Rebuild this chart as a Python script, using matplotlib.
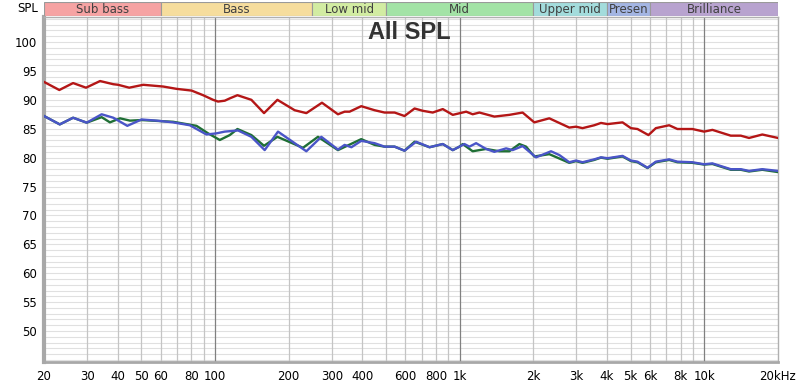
import matplotlib
matplotlib.use("Agg")
import matplotlib.pyplot as plt
from matplotlib.patches import Rectangle

# ---------------- data ----------------
freq_red = [20, 23.1, 26.3, 29.7, 33.9, 38.4, 40.2, 44.6, 50.9, 61.4,
            69.6, 80.2, 89.4, 98.2, 102.9, 109.6, 114.9, 123.5, 140.8, 158.6,
            179.9, 211.6, 236.2, 273.6, 318, 338.6, 354.8, 396, 449, 493,
            542, 595, 654, 707, 776, 853, 937, 1063, 1130, 1204,
            1386, 1596, 1808, 2018, 2324, 2805, 2989, 3178, 3548, 3780,
            4022, 4630, 5010, 5330, 5910, 6336, 7180, 7762, 8937, 9977,
            10790, 12822, 14090, 15230, 17256, 20000]
spl_red = [93.1, 91.7, 92.9, 92.1, 93.25, 92.7, 92.6, 92.1, 92.6, 92.3,
           91.9, 91.6, 90.8, 90.0, 89.7, 89.85, 90.25, 90.8, 90.0, 87.7,
           90.0, 88.2, 87.7, 89.5, 87.5, 87.95, 87.95, 88.9, 88.2, 87.8,
           87.8, 87.2, 88.5, 88.1, 87.8, 88.4, 87.4, 87.95, 87.5, 87.8,
           87.1, 87.4, 87.8, 86.1, 86.8, 85.2, 85.35, 85.1, 85.6, 86.0,
           85.8, 86.1, 85.1, 84.95, 83.9, 85.1, 85.6, 84.95, 84.95, 84.5,
           84.8, 83.8, 83.8, 83.4, 84.0, 83.4]

freq_blue = [20, 23.2, 26.3, 29.9, 34.4, 38.4, 43.8, 50.1, 57.7, 67.4,
             78.9, 92.3, 101.4, 109.6, 124.2, 140.8, 159.6, 180.9, 211.6, 236.2,
             272, 318, 338.6, 361, 396, 449, 493, 542, 595, 664,
             753, 853, 937, 1046, 1096, 1167, 1282, 1386, 1548, 1646,
             1808, 2052, 2362, 2554, 2805, 2989, 3178, 3548, 3780, 4022,
             4630, 5010, 5330, 5856, 6336, 7180, 7762, 8937, 9977, 10790,
             12822, 14090, 15230, 17256, 20000]
spl_blue = [87.2, 85.75, 86.9, 86.05, 87.5, 86.9, 85.5, 86.6, 86.4, 86.1,
            85.6, 84.0, 84.2, 84.5, 84.7, 83.6, 81.3, 84.5, 82.5, 81.1,
            83.6, 81.4, 82.2, 81.8, 82.9, 82.5, 81.9, 81.9, 81.2, 82.75,
            81.8, 82.35, 81.3, 82.35, 81.9, 82.5, 81.5, 81.0, 81.6, 81.3,
            82.0, 80.05, 81.1, 80.45, 79.2, 79.5, 79.2, 79.7, 80.05, 79.9,
            80.3, 79.5, 79.3, 78.25, 79.3, 79.7, 79.3, 79.2, 78.85, 79.0,
            78.0, 78.0, 77.7, 78.0, 77.7]

freq_green = [20, 23.2, 26.3, 29.9, 34.4, 37.2, 40.9, 44.9, 50.1, 67.4,
              84.0, 93.7, 104.6, 114.9, 123.5, 140.8, 158.6, 179.9, 228.8, 263.5,
              318, 396, 449, 493, 542, 595, 654, 753, 853, 937,
              998, 1029, 1130, 1282, 1452, 1596, 1754, 1868, 2018, 2324,
              2805, 2989, 3178, 3548, 3780, 4022, 4630, 5010, 5330, 5856,
              6336, 7180, 7762, 8937, 9977, 10790, 12822, 14090, 15230, 17256,
              20000]
spl_green = [87.2, 85.75, 86.9, 86.05, 87.0, 86.1, 86.8, 86.4, 86.5, 86.2,
             85.5, 84.2, 83.05, 83.9, 84.95, 83.9, 82.05, 83.6, 81.7, 83.6,
             81.3, 83.2, 82.2, 81.9, 81.9, 81.2, 82.75, 81.8, 82.35, 81.3,
             81.9, 82.35, 81.1, 81.5, 81.1, 81.1, 82.35, 81.9, 80.2, 80.6,
             79.1, 79.4, 79.1, 79.6, 80.0, 79.8, 80.2, 79.4, 79.2, 78.2,
             79.2, 79.6, 79.2, 79.1, 78.8, 78.9, 77.9, 77.9, 77.6, 77.9,
             77.5]

band_names = ["Sub bass", "Bass", "Low mid", "Mid", "Upper mid", "Presen", "Brilliance"]
band_edges = [20, 60, 250, 500, 2000, 4000, 6000, 20000]
band_colors = ["#f6a3a3", "#f6dd9d", "#d2eca2", "#a3e3a6", "#a3dcdc", "#a3b5e3", "#b8a3cf"]

y_ticks = [50, 55, 60, 65, 70, 75, 80, 85, 90, 95, 100]
x_ticks = [20, 30, 40, 50, 60, 80, 100, 200, 300, 400, 600, 800, 1000,
           2000, 3000, 4000, 5000, 6000, 8000, 10000, 20000]
x_labels = ["20", "30", "40", "50", "60", "80", "100", "200", "300", "400", "600", "800", "1k",
            "2k", "3k", "4k", "5k", "6k", "8k", "10k", "20kHz"]

# ---------------- figure ----------------
W, H = 800, 389
fig = plt.figure(figsize=(8.0, 3.89), dpi=100)
fig.patch.set_facecolor("white")

x0, x1, y0, y1 = 44, 778, 17, 362
ax = fig.add_axes([x0 / W, 1 - y1 / H, (x1 - x0) / W, (y1 - y0) / H])
ax.set_xscale("log")
ax.set_xlim(20, 20000)
ax.set_ylim(44.64, 104.33)

# grid
for v in range(45, 105):
    ax.axhline(v, color="#e0e0e0", lw=0.8, zorder=0)
grid_f = []
for dec in [10, 100, 1000, 10000]:
    for m in range(1, 10):
        f = m * dec
        if 20 < f < 20000:
            grid_f.append(f)
for f in grid_f:
    dark = f in (100, 1000, 10000)
    ax.axvline(f, color="#808080" if dark else "#c4c4c4", lw=0.9, zorder=0.5)

ax.plot(freq_red, spl_red, color="#b41616", lw=1.7, zorder=3)
ax.plot(freq_green, spl_green, color="#1f6f35", lw=1.7, zorder=4)
ax.plot(freq_blue, spl_blue, color="#4a55c8", lw=1.7, zorder=5)

ax.set_yticks(y_ticks)
ax.set_yticklabels([str(v) for v in y_ticks])
ax.set_xticks(x_ticks)
ax.set_xticklabels(x_labels)
ax.xaxis.set_minor_locator(matplotlib.ticker.NullLocator())
ax.tick_params(axis="both", length=0, labelsize=8.5, colors="#000000")
ax.tick_params(axis="y", pad=5)
ax.tick_params(axis="x", pad=6)

for s in ["top", "right"]:
    ax.spines[s].set_color("#b0b0b0")
    ax.spines[s].set_linewidth(1.0)
ax.spines["left"].set_color("#a8a8a8")
ax.spines["left"].set_linewidth(3.0)
ax.spines["bottom"].set_color("#a8a8a8")
ax.spines["bottom"].set_linewidth(2.0)

ax.text(0.498, 0.955, "All SPL", transform=ax.transAxes, ha="center", va="center",
        fontsize=17, fontweight="bold", color="#333333", family="Liberation Sans", zorder=6)

# band row
bx = fig.add_axes([x0 / W, 1 - 16 / H, (x1 - x0) / W, 14 / H])
bx.set_xscale("log")
bx.set_xlim(20, 20000)
bx.set_ylim(0, 1)
bx.axis("off")
for name, lo, hi, c in zip(band_names, band_edges[:-1], band_edges[1:], band_colors):
    bx.add_patch(Rectangle((lo, 0), hi - lo, 1, facecolor=c, edgecolor="#9a9a9a", lw=0.8))
    bx.text((lo * hi) ** 0.5, 0.45, name, ha="center", va="center", fontsize=8.5, color="#404040")

fig.text(38 / W, 1 - 8.5 / H, "SPL", ha="right", va="center", fontsize=8.5, color="#000000")

fig.savefig("out.png", dpi=100, facecolor="white")
